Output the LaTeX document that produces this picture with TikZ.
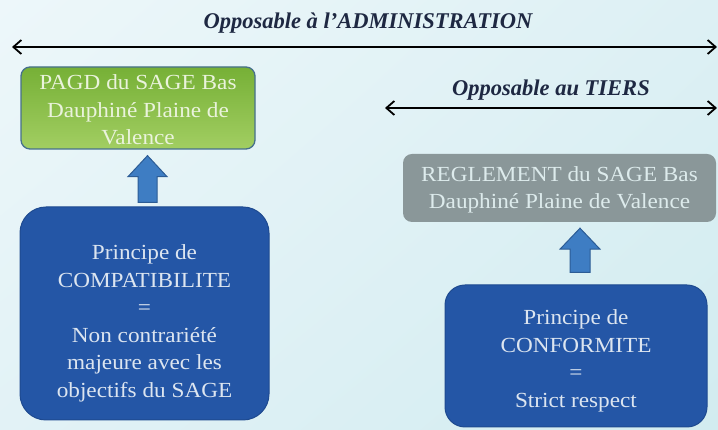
\documentclass[tikz,border=0pt]{standalone}
\usepackage{fontspec}
\setmainfont{Liberation Serif}
\newfontfamily\boxfont[FakeStretch=1.08]{Liberation Serif}
\usetikzlibrary{arrows.meta,calc,shadings}

\definecolor{bgA}{HTML}{EDF7FA}
\definecolor{bgB}{HTML}{DDF0F4}
\definecolor{bgC}{HTML}{E2F2F6}
\definecolor{bgD}{HTML}{D2ECF0}
\definecolor{titleink}{HTML}{1E2842}
\definecolor{greenTop}{HTML}{76B036}
\definecolor{greenBot}{HTML}{A2CE62}
\definecolor{greenLine}{HTML}{46708C}
\definecolor{greenInk}{HTML}{EAF3DC}
\definecolor{greyFill}{HTML}{8A9799}
\definecolor{greyInk}{HTML}{DDEBEC}
\definecolor{blueFill}{HTML}{2456A6}
\definecolor{blueLine}{HTML}{1E4A90}
\definecolor{blueInk}{HTML}{DCE5F0}
\definecolor{arrowFill}{HTML}{3E7DC3}
\definecolor{arrowLine}{HTML}{2C5C95}

\tikzset{
  scopelabel/.style={font=\fontsize{22.5}{26}\selectfont\bfseries\itshape, text=titleink, inner sep=0pt},
  spanarrow/.style={line width=2.2pt, black, {Straight Barb[length=8pt,width=14pt,line width=1.8pt]}-{Straight Barb[length=8pt,width=14pt,line width=1.8pt]}},
  boxtext/.style={font=\boxfont\fontsize{21.5}{27.5}\selectfont, align=center, inner sep=0pt},
  pagdbox/.style={draw=greenLine, line width=1.3pt, rounded corners=9pt, top color=greenTop, bottom color=greenBot, minimum width=234pt, minimum height=82pt, inner sep=0pt},
  reglbox/.style={fill=greyFill, rounded corners=9pt, minimum width=313pt, minimum height=68pt, inner sep=0pt},
  principlebox/.style={fill=blueFill, draw=blueLine, line width=1pt, inner sep=0pt},
  blockarrow/.style={fill=arrowFill, draw=arrowLine, line width=1pt, line join=miter},
}

\begin{document}
\begin{tikzpicture}[x=1pt,y=1pt]
  % background
  \useasboundingbox (0,0) rectangle (718,430);
  \shade[upper left=bgA, upper right=bgB, lower left=bgC, lower right=bgD] (0,0) rectangle (718,430);

  % scope of enforceability
  \node[scopelabel] (admin) at (368,407) {Opposable à l’ADMINISTRATION};
  \coordinate (adminL) at (12,383);
  \coordinate (adminR) at (717,383);
  \draw[spanarrow] (adminL) -- (adminR);

  \node[scopelabel] (tiers) at (551,340) {Opposable au TIERS};
  \coordinate (tiersL) at (385,322);
  \coordinate (tiersR) at (717,322);
  \draw[spanarrow] (tiersL) -- (tiersR);

  % documents of the SAGE
  \node[pagdbox] (pagd) at (138,322) {};
  \node[boxtext, text=greenInk] (pagdt) at ($(pagd.center)+(0,-2)$) {PAGD du SAGE Bas\\Dauphiné Plaine de\\Valence};

  \node[reglbox] (regl) at (559.5,242) {};
  \node[boxtext, text=greyInk] (reglt) at ($(regl.center)+(0,-2)$) {REGLEMENT du SAGE Bas\\Dauphiné Plaine de Valence};

  % legal principles
  \node[principlebox, rounded corners=26pt, minimum width=249pt, minimum height=213pt] (compat) at (144.5,116.5) {};
  \node[boxtext, text=blueInk] (compatt) at ($(compat.center)+(0,-10)$) {Principe de\\COMPATIBILITE\\=\\Non contrariété\\majeure avec les\\objectifs du SAGE};

  \node[principlebox, rounded corners=20pt, minimum width=262pt, minimum height=142pt] (conf) at (576,74) {};
  \node[boxtext, text=blueInk] (conft) at ($(conf.center)+(0,-5)$) {Principe de\\CONFORMITE\\=\\Strict respect};

  % block arrows from principle to document
  \draw[blockarrow] let \p1=(pagd.south), \p2=(compat.north) in
    (147.5,\y1-6) -- (167,\y1-27) -- (157,\y1-27) -- (157,\y2+4)
    -- (138,\y2+4) -- (138,\y1-27) -- (128,\y1-27) -- cycle;
  \draw[blockarrow] let \p1=(regl.south), \p2=(conf.north) in
    (580,\y1-6) -- (600,\y1-27) -- (590,\y1-27) -- (590,\y2+12)
    -- (570,\y2+12) -- (570,\y1-27) -- (560,\y1-27) -- cycle;
\end{tikzpicture}
\end{document}
